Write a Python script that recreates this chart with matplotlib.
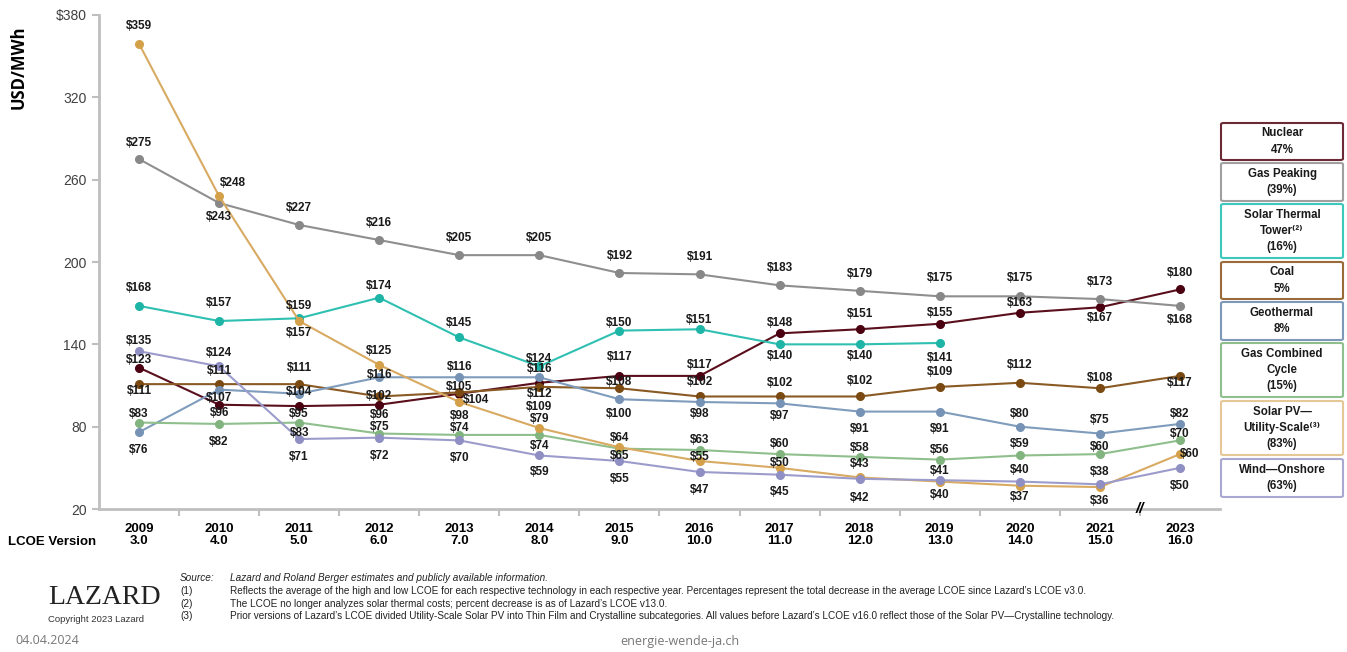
import matplotlib
matplotlib.use("Agg")
import matplotlib.pyplot as plt
from matplotlib.patches import FancyBboxPatch

plt.rcParams['font.family'] = ['Liberation Sans', 'DejaVu Sans']

# ---- data ----
years = ['2009', '2010', '2011', '2012', '2013', '2014', '2015',
         '2016', '2017', '2018', '2019', '2020', '2021', '2023']
versions = ['3.0', '4.0', '5.0', '6.0', '7.0', '8.0', '9.0',
            '10.0', '11.0', '12.0', '13.0', '14.0', '15.0', '16.0']

nuclear = [123, 96, 95, 96, 104, 112, 117, 117, 148, 151, 155, 163, 167, 180]
gas_peaking = [275, 243, 227, 216, 205, 205, 192, 191, 183, 179, 175, 175, 173, 168]
solar_thermal = [168, 157, 159, 174, 145, 124, 150, 151, 140, 140, 141]
coal = [111, 111, 111, 102, 105, 109, 108, 102, 102, 102, 109, 112, 108, 117]
geothermal = [76, 107, 104, 116, 116, 116, 100, 98, 97, 91, 91, 80, 75, 82]
gas_cc = [83, 82, 83, 75, 74, 74, 64, 63, 60, 58, 56, 59, 60, 70]
solar_pv = [359, 248, 157, 125, 98, 79, 65, 55, 50, 43, 40, 37, 36, 60]
wind = [135, 124, 71, 72, 70, 59, 55, 47, 45, 42, 41, 40, 38, 50]

legend_names = ['Nuclear\n47%', 'Gas Peaking\n(39%)',
                'Solar Thermal\nTower\u207d\u00b2\u207e\n(16%)',
                'Coal\n5%', 'Geothermal\n8%', 'Gas Combined\nCycle\n(15%)',
                'Solar PV\u2014\nUtility-Scale\u207d\u00b3\u207e\n(83%)', 'Wind\u2014Onshore\n(63%)']

# label offsets in pixels (dy up, dx right) -- placement only
nuc_dy = [8, -8, -8, -10, -6, -11, 19, 11, 10, 15, 11, 10, -11, 16]
nuc_dx = [0, 0, 0, 0, 17, 0, 0, 0, 0, 0, 0, 0, 0, 0]
peak_dy = [16, -14, 17, 17, 17, 17, 17, 17, 17, 17, 18, 18, 17, -14]
therm_dy = [18, 18, 12, 12, 14, 7, 8, 9, -12, -12, -15]
coal_dy = [-7, 13, 16, 0, 5, -20, 6, 14, 13, 15, 15, 18, 10, -7]
geo_dy = [-18, -8, 2, 2, 10, 8, -15, -12, -13, -17, -17, 13, 14, 10]
gcc_dy = [9, -18, -10, 7, 7, -11, 11, 10, 10, 9, 10, 11, 7, 6]
pv_dy = [18, 13, -12, 14, -14, 9, -9, 4, 5, 13, -13, -11, -14, 0]
pv_dx = [0, 14, 0, 0, 0, 0, 0, 0, 0, 0, 0, 0, 0, 10]
wind_dy = [10, 13, -18, -18, -18, -17, -18, -18, -17, -19, 9, 12, 12, -18]

series = [
    (nuclear, '#5a0f1c', '#4a0010', nuc_dy, nuc_dx),
    (gas_peaking, '#8f8f8f', '#888888', peak_dy, None),
    (solar_thermal, '#2fc0b2', '#1fb5a6', therm_dy, None),
    (coal, '#8a5a24', '#7a4a12', coal_dy, None),
    (geothermal, '#7f9cbc', '#7693b5', geo_dy, None),
    (gas_cc, '#8fbf8c', '#82b47f', gcc_dy, None),
    (solar_pv, '#d8aa62', '#d4a04a', pv_dy, pv_dx),
    (wind, '#9c9ccc', '#8f8fc4', wind_dy, None),
]
legend_edge = ['#6b2a35', '#a0a0a0', '#3cc8bb', '#9a6a3a', '#7e98b8', '#8fbf8c', '#e6c896', '#a8a8d0']

fig = plt.figure(figsize=(13.47, 6.52), dpi=100)
ax = fig.add_axes([0.0735, 0.2193, 0.8322, 0.7577])

px = 0.72  # points per pixel
for vals, lc, mc, dys, dxs in series:
    xs = list(range(len(vals)))
    ax.plot(xs, vals, color=lc, lw=1.5, marker='o', ms=5.5, mfc=mc, mec=mc, zorder=3)
    for i, v in enumerate(vals):
        dx = dxs[i] if dxs else 0
        ax.annotate('$%d' % v, (i, v), xytext=(dx * px, dys[i] * px),
                    textcoords='offset points', ha='center', va='center',
                    fontsize=8.5, fontweight='bold', color='#1a1a1a', zorder=5)

ax.set_xlim(-0.5, 13.5)
ax.set_ylim(20, 380)
ax.set_yticks([20, 80, 140, 200, 260, 320, 380])
ax.set_yticklabels(['20', '80', '140', '200', '260', '320', '$380'])
ax.set_xticks(range(len(years)))
ax.set_xticklabels([y + '\n' + v for y, v in zip(years, versions)],
                   fontweight='bold', fontsize=9.5, linespacing=1.05)
ax.set_xticks([i + 0.5 for i in range(13)], minor=True)
ax.tick_params(axis='x', which='major', length=0, pad=10)
ax.tick_params(axis='x', which='minor', length=5, color='#bfbfbf', width=1.5)
ax.tick_params(axis='y', length=5, color='#bfbfbf', width=1.5, labelsize=10,
               labelcolor='#404040', pad=4)
for s in ['top', 'right']:
    ax.spines[s].set_visible(False)
for s in ['left', 'bottom']:
    ax.spines[s].set_color('#bfbfbf')
    ax.spines[s].set_linewidth(2)

ax.text(12.5, 20, '//', ha='center', va='center', fontsize=11, fontweight='bold',
        style='italic', clip_on=False, zorder=6)

fig.text(0.0135, 0.897, 'USD/MWh', rotation=90, ha='center', va='center',
         fontsize=12, fontweight='bold', family='Open Sans')
fig.text(0.006, 0.168, 'LCOE Version', ha='left', va='center', fontsize=9.5, fontweight='bold')

# legend boxes on the right
box_y = [(123, 160), (163, 201), (204, 258), (262, 299), (302, 340),
         (343, 397), (401, 455), (459, 497)]
W, H = 1347.0, 652.0
for (y0, y1), name, ec in zip(box_y, legend_names, legend_edge):
    b = FancyBboxPatch((1221 / W, 1 - y1 / H), 122 / W, (y1 - y0) / H,
                       boxstyle='round,pad=0,rounding_size=0.002', transform=fig.transFigure,
                       fc='white', ec=ec, lw=1.5)
    fig.patches.append(b)
    fig.text(1282 / W, 1 - (y0 + y1) / 2 / H, name, ha='center', va='center',
             fontsize=8.3, fontweight='bold', linespacing=1.45, color='#1a1a1a')

# footer
fig.text(48 / W, 1 - 597 / H, 'LAZARD', ha='left', va='center', fontsize=20,
         family='Liberation Serif', color='#222222')
fig.text(48 / W, 1 - 619 / H, 'Copyright 2023 Lazard', ha='left', va='center',
         fontsize=6.8, color='#333333')
notes_y = [578, 591, 604, 616]
notes_k = ['Source:', '(1)', '(2)', '(3)']
notes_t = ['Lazard and Roland Berger estimates and publicly available information.',
           'Reflects the average of the high and low LCOE for each respective technology in each respective year. '
           'Percentages represent the total decrease in the average LCOE since Lazard\u2019s LCOE v3.0.',
           'The LCOE no longer analyzes solar thermal costs; percent decrease is as of Lazard\u2019s LCOE v13.0.',
           'Prior versions of Lazard\u2019s LCOE divided Utility-Scale Solar PV into Thin Film and Crystalline '
           'subcategories. All values before Lazard\u2019s LCOE v16.0 reflect those of the Solar PV\u2014Crystalline technology.']
for i, (yy, k, t) in enumerate(zip(notes_y, notes_k, notes_t)):
    st = 'italic' if i == 0 else 'normal'
    fig.text(180 / W, 1 - yy / H, k, ha='left', va='center', fontsize=7.2, style=st, color='#222222')
    fig.text(230 / W, 1 - yy / H, t, ha='left', va='center', fontsize=7.2, style=st, color='#222222')

fig.text(15 / W, 1 - 641 / H, '04.04.2024', ha='left', va='center', fontsize=9,
         family='Open Sans', color='#777777')
fig.text(620 / W, 1 - 641 / H, 'energie-wende-ja.ch', ha='left', va='center', fontsize=9,
         family='Open Sans', color='#777777')

fig.savefig('out.png', dpi=100)
